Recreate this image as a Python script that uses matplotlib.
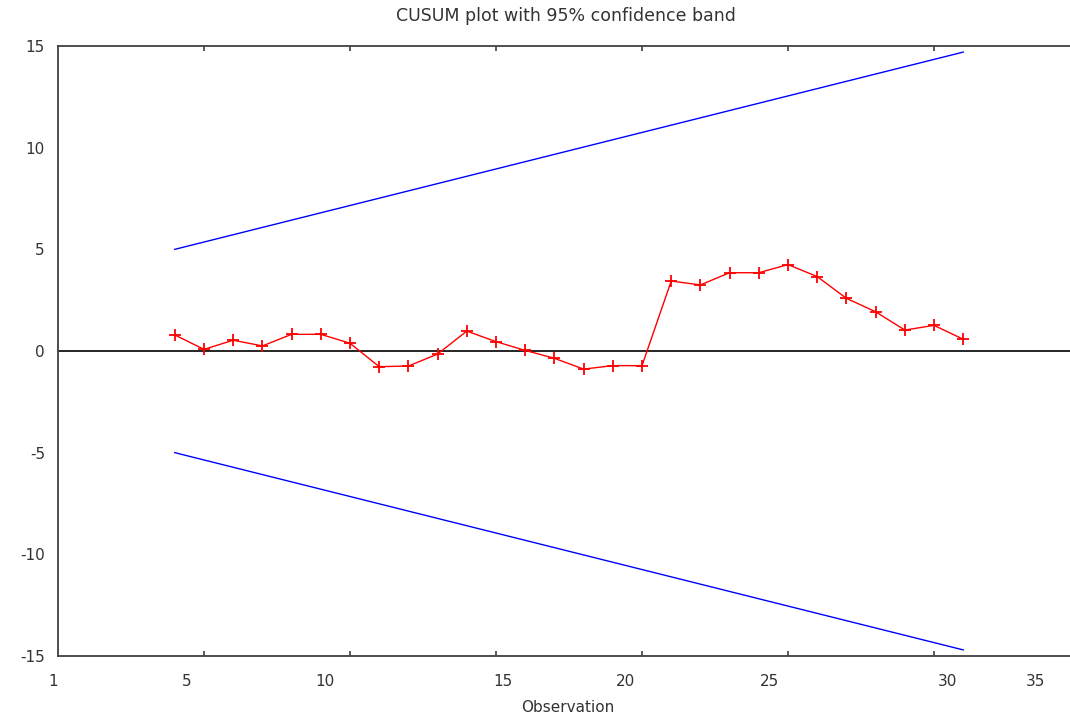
import matplotlib
matplotlib.use("Agg")
import matplotlib.pyplot as plt

# ===============================
# Donnees
# ===============================
obs = list(range(4, 32))
cusum = [0.79, 0.08, 0.53, 0.25, 0.82, 0.82, 0.38, -0.77, -0.74, -0.15,
         0.98, 0.46, 0.03, -0.36, -0.89, -0.72, -0.72, 3.44, 3.25, 3.85,
         3.85, 4.25, 3.66, 2.59, 1.93, 1.03, 1.26, 0.58]

band_x = [4, 31]
band_upper = [5.0, 14.7]
band_lower = [-5.0, -14.7]

xtick_pos = [5, 10, 15, 20, 25, 30]
xlabel_pos = [-0.17, 4.42, 9.14, 15.24, 19.42, 24.38, 30.45, 33.49]
xlabel_txt = ["1", "5", "10", "15", "20", "25", "30", "35"]
yticks = [-15, -10, -5, 0, 5, 10, 15]

W, H = 1070, 713
txt_col = "#333333"
ax_col = "#404040"

fig = plt.figure(figsize=(W / 100, H / 100), dpi=100)
left, right, top, bottom = 58, 1072, 46, 656
ax = fig.add_axes([left / W, 1 - bottom / H, (right - left) / W, (bottom - top) / H])

# echelle : 29.2 px par observation, bord gauche = 0
ax.set_xlim(0, (right - left) / 29.2)
ax.set_ylim(-15, 15)

# ligne zero
ax.axhline(0, color="black", lw=1.2, zorder=1)

# bande de confiance
ax.plot(band_x, band_upper, color="#0000ff", lw=1)
ax.plot(band_x, band_lower, color="#0000ff", lw=1)

# CUSUM
ax.plot(obs, cusum, color="#ff0000", lw=1, marker="+", markersize=9,
        markeredgewidth=1.3)

# axes
for s in ["left", "bottom", "top"]:
    ax.spines[s].set_color(ax_col)
    ax.spines[s].set_linewidth(1.3)
ax.spines["right"].set_visible(False)

ax.set_xticks(xtick_pos)
ax.set_xticklabels([])
ax.tick_params(axis="x", direction="in", length=3.6, width=1.2, color=ax_col,
               top=True, bottom=True)
ax.set_yticks(yticks)
ax.set_yticklabels([str(v) for v in yticks])
ax.tick_params(axis="y", length=0, pad=9.4, labelsize=11, labelcolor=txt_col)

# etiquettes x (decalees comme dans l'original)
for p, t in zip(xlabel_pos, xlabel_txt):
    ax.text(p, -26 / (bottom - top), t, transform=ax.get_xaxis_transform(),
            ha="center", va="center", fontsize=11, color=txt_col, clip_on=False)

fig.text(566 / W, 1 - 16 / H, "CUSUM plot with 95% confidence band",
         ha="center", va="center", fontsize=12.5, color=txt_col)
# titre de l'axe x, coupe en bas comme dans l'original
fig.text(568 / W, 1 - 707 / H, "Observation", ha="center", va="center",
         fontsize=11, color=txt_col)

fig.savefig("out.png", dpi=100, facecolor="white")
